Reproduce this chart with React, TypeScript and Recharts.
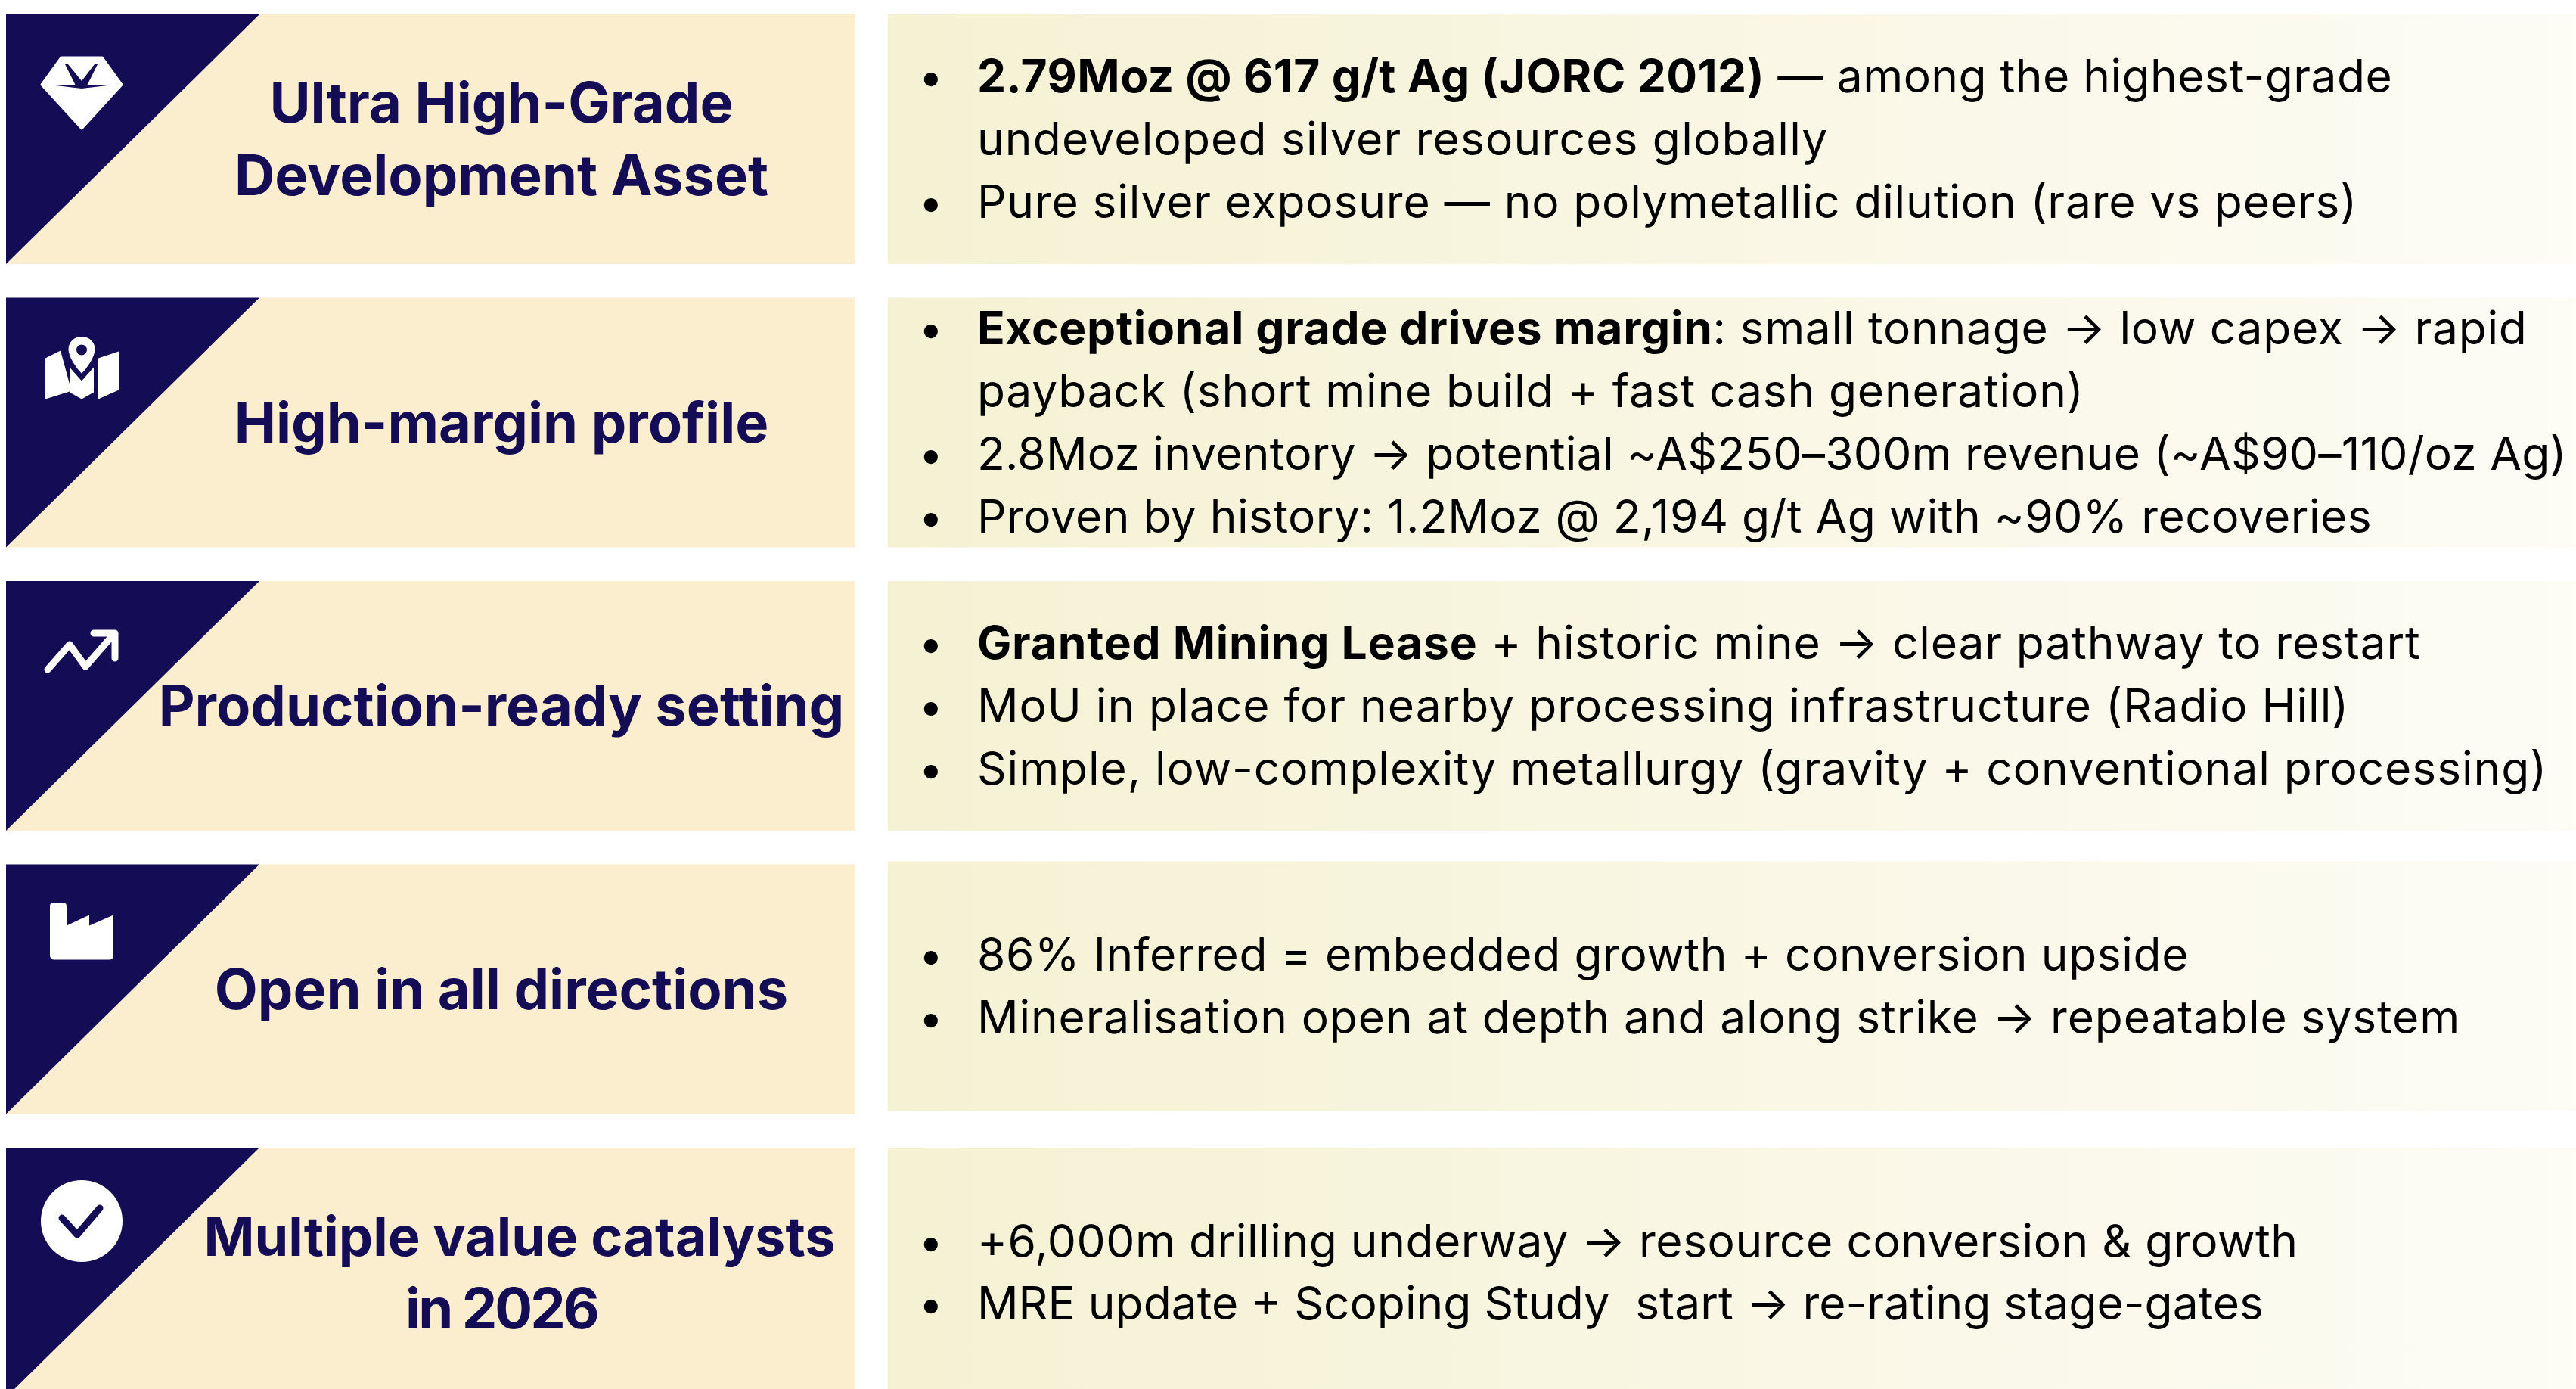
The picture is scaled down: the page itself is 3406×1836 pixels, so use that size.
import { BarChart, Bar, XAxis, YAxis } from "recharts";

const titles = [
  ["Ultra High-Grade", "Development Asset"],
  ["High-margin profile"],
  ["Production-ready setting"],
  ["Open in all directions"],
  ["Multiple value catalysts", "in 2026"],
];
const icons = ["gem", "map", "trend", "factory", "check"];
const leadIn = [0.235, 0.235, 0.235, 0.235, 0.235];
const headline = [32.97, 32.97, 32.97, 32.97, 32.97];
const gutter = [1.26, 1.26, 1.26, 1.26, 1.26];
const detail = [65.53, 65.53, 65.53, 65.53, 65.53];

// [bullet?, bold run, regular run]
type Line = [boolean, string, string];
const details: Line[][] = [
  [
    [true, "2.79Moz @ 617 g/t Ag (JORC 2012)", " — among the highest-grade"],
    [false, "", "undeveloped silver resources globally"],
    [true, "", "Pure silver exposure — no polymetallic dilution (rare vs peers)"],
  ],
  [
    [true, "Exceptional grade drives margin", ": small tonnage → low capex → rapid"],
    [false, "", "payback (short mine build + fast cash generation)"],
    [true, "", "2.8Moz inventory → potential ~A$250–300m revenue (~A$90–110/oz Ag)"],
    [true, "", "Proven by history: 1.2Moz @ 2,194 g/t Ag with ~90% recoveries"],
  ],
  [
    [true, "Granted Mining Lease", " + historic mine → clear pathway to restart"],
    [true, "", "MoU in place for nearby processing infrastructure (Radio Hill)"],
    [true, "", "Simple, low-complexity metallurgy (gravity + conventional processing)"],
  ],
  [
    [true, "", "86% Inferred = embedded growth + conversion upside"],
    [true, "", "Mineralisation open at depth and along strike → repeatable system"],
  ],
  [
    [true, "", "+6,000m drilling underway → resource conversion & growth"],
    [true, "", "MRE update + Scoping Study  start → re-rating stage-gates"],
  ],
];

const rows = titles.map((t, i) => ({
  row: t.join(" "),
  leadIn: leadIn[i],
  headline: headline[i],
  gutter: gutter[i],
  detail: detail[i],
}));

const NAVY = "#150C56";
const FONT = "Inter, sans-serif";

// letter spacing per body line, so each line ends where the original does
const tracking = [
  [0.45, 1.17, 0.84],
  [0.73, 0.82, 0.22, 0.46],
  [0.84, 0.98, 0.91],
  [0.6, 0.87],
  [0.52, 0],
];

// icons are drawn in the coordinates of the panel corner
const Icon = ({ kind }: { kind: string }) => {
  if (kind === "gem")
    return (
      <g>
        <path d="M73 57 L127 57 L153 93 L100 151 L47 93 Z" fill="#fff" stroke="#fff" strokeWidth={3} strokeLinejoin="round" />
        <path d="M78 66 L82 66 L100 88 L117 66 L121 66 L107 94 L143 93 L100 98 L57 93 L92 94 Z" fill={NAVY} />
      </g>
    );
  if (kind === "map")
    return (
      <g fill="#fff">
        <path d="M52 80 L72 70 L84 114 L84 124 L52 134 Z" />
        <path d="M84 92 L100 110 L116 92 L116 125 L100 134 L84 125 Z" />
        <path d="M122 80 L149 71 L149 122 L122 134 Z" />
        <path d="M100 49 C112 49 120 58 120 68 C120 80 108 96 100 104 C92 96 80 80 80 68 C80 58 88 49 100 49 Z" stroke={NAVY} strokeWidth={5} />
        <circle cx={100} cy={69} r={7} fill={NAVY} />
      </g>
    );
  if (kind === "trend")
    return (
      <path
        d="M55 117 L84 84 L105 113 L140 73 M116 69 L144 69 L144 102"
        fill="none"
        stroke="#fff"
        strokeWidth={9}
        strokeLinecap="round"
        strokeLinejoin="round"
      />
    );
  if (kind === "factory")
    return (
      <path
        d="M62 51 Q58 51 58 55 L58 120 Q58 126 64 126 L136 126 Q142 126 142 120 L142 67 L110 81 L110 67 L80 81 L80 55 Q80 51 76 51 Z"
        fill="#fff"
      />
    );
  return (
    <g>
      <circle cx={100} cy={97} r={54} fill="#fff" />
      <path d="M74 93 L94 115 L124 80" fill="none" stroke={NAVY} strokeWidth={9} strokeLinecap="round" strokeLinejoin="round" />
    </g>
  );
};

const HeadlinePanel = (props: any) => {
  const { x, y, width, height, index } = props;
  const lines = titles[index];
  const cx = x + 655;
  const first = y + height / 2 + 26 - ((lines.length - 1) * 96) / 2;
  return (
    <g>
      <rect x={x} y={y} width={width} height={height} fill="#FAEECF" />
      <path d={`M${x} ${y} L${x + 335} ${y} L${x} ${y + height} Z`} fill={NAVY} />
      <g transform={`translate(${x} ${y})`}>
        <Icon kind={icons[index]} />
      </g>
      {lines.map((line, i) => (
        <text
          key={line}
          // this one line sits right of the common centre in the original
          x={line.startsWith("Multiple") ? cx + 24 : cx}
          y={first + i * 96}
          textAnchor="middle"
          fontFamily={FONT}
          fontWeight={700}
          fontSize={line.startsWith("Multiple") ? 72 : 74}
          letterSpacing={line === "in 2026" ? -3 : 0}
          fill={NAVY}
        >
          {line}
        </text>
      ))}
    </g>
  );
};

const DetailPanel = (props: any) => {
  const { x, y, width, height, index } = props;
  const lines = details[index];
  // the fourth box sits a few pixels higher than its headline in the original
  const top = index === 3 ? y - 4 : y;
  const first = top + height / 2 + 21 - ((lines.length - 1) * 82.8) / 2;
  return (
    <g>
      <rect x={x} y={top} width={width} height={height} fill="url(#detailFill)" />
      {lines.map(([bullet, bold, rest], i) => (
        <g key={i}>
          {bullet && (
            <text x={x + 57} y={first + i * 82.8} textAnchor="middle" fontFamily={FONT} fontSize={58} fill="#000">
              •
            </text>
          )}
          <text
            x={x + 118}
            y={first + i * 82.8}
            fontFamily={FONT}
            fontSize={60.5}
            letterSpacing={tracking[index][i]}
            fill="#000"
            xmlSpace="preserve"
          >
            {bold && <tspan fontWeight={700}>{bold}</tspan>}
            <tspan>{rest}</tspan>
          </text>
        </g>
      ))}
    </g>
  );
};

export default function App() {
  return (
    <div style={{ position: "absolute", left: 0, top: 0, width: 3406, height: 1836, overflow: "hidden", background: "#fff" }}>
      <BarChart
        width={3406}
        height={1836}
        data={rows}
        layout="vertical"
        margin={{ top: -3, right: 0, bottom: -33.5, left: 0 }}
      >
        <defs>
          <linearGradient id="detailFill" x1="0" y1="0" x2="1" y2="0">
            <stop offset="0%" stopColor="#F5F1D3" />
            <stop offset="100%" stopColor="#FDFCF5" />
          </linearGradient>
        </defs>
        <XAxis type="number" domain={[0, 100]} hide />
        <YAxis type="category" dataKey="row" hide />
        <Bar dataKey="leadIn" stackId="row" barSize={330} fill="none" isAnimationActive={false} />
        <Bar dataKey="headline" stackId="row" barSize={330} shape={HeadlinePanel} isAnimationActive={false} />
        <Bar dataKey="gutter" stackId="row" barSize={330} fill="none" isAnimationActive={false} />
        <Bar dataKey="detail" stackId="row" barSize={330} shape={DetailPanel} isAnimationActive={false} />
      </BarChart>
    </div>
  );
}
